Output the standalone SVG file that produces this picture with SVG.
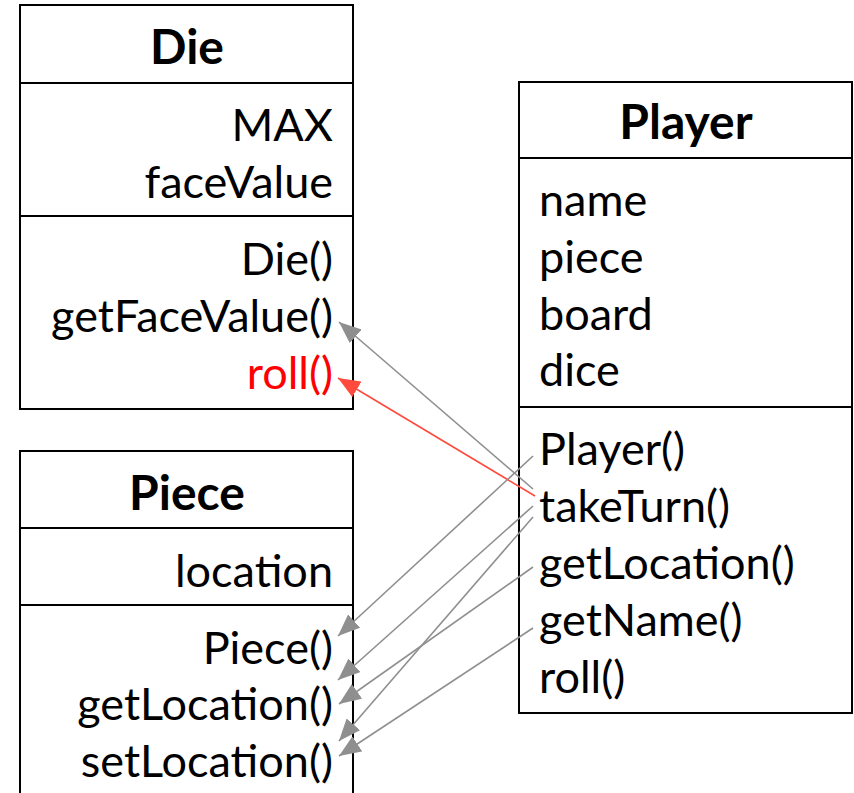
<svg xmlns="http://www.w3.org/2000/svg" width="854" height="793" viewBox="0 0 854 793">
  <defs>
    <style>
      .box { fill: #ffffff; stroke: #000000; stroke-width: 2; }
      .div { stroke: #000000; stroke-width: 2; }
      .t { font-family: Lato, "Liberation Sans", sans-serif; font-size: 45px; fill: #000000; }
      .h { font-family: Lato, "Liberation Sans", sans-serif; font-size: 48px; font-weight: bold; fill: #000000; text-anchor: middle; }
      .r { text-anchor: end; }
      .red { fill: #ff0000; }
      .c { fill: none; stroke: #8f8f8f; stroke-width: 1.6; }
      .cr { fill: none; stroke: #ff4a3d; stroke-width: 1.6; }
    </style>
    <marker id="ag" viewBox="0 0 22 18" refX="22" refY="9" markerWidth="22" markerHeight="18" markerUnits="userSpaceOnUse" orient="auto">
      <path d="M0,0 L22,9 L0,18 z" fill="#8f8f8f"/>
    </marker>
    <marker id="ar" viewBox="0 0 22 18" refX="22" refY="9" markerWidth="22" markerHeight="18" markerUnits="userSpaceOnUse" orient="auto">
      <path d="M0,0 L22,9 L0,18 z" fill="#ff4a3d"/>
    </marker>
  </defs>
  <rect width="854" height="793" fill="#ffffff"/>

  <g id="die">
    <rect class="box" x="20" y="5" width="333" height="404"/>
    <line class="div" x1="20" y1="83" x2="353" y2="83"/>
    <line class="div" x1="20" y1="216" x2="353" y2="216"/>
    <text class="h" x="187" y="64">Die</text>
    <text class="t r" x="333" y="141">MAX</text>
    <text class="t r" x="333" y="198">faceValue</text>
    <text class="t r" x="333" y="275">Die()</text>
    <text class="t r" x="333" y="332">getFaceValue()</text>
    <text class="t r red" x="333" y="389">roll()</text>
  </g>

  <g id="piece">
    <rect class="box" x="20" y="451" width="333" height="400"/>
    <line class="div" x1="20" y1="528" x2="353" y2="528"/>
    <line class="div" x1="20" y1="605" x2="353" y2="605"/>
    <text class="h" x="187" y="510">Piece</text>
    <text class="t r" x="333" y="587">location</text>
    <text class="t r" x="333" y="664">Piece()</text>
    <text class="t r" x="333" y="720">getLocation()</text>
    <text class="t r" x="333" y="777">setLocation()</text>
  </g>

  <g id="player">
    <rect class="box" x="519" y="82" width="333" height="631"/>
    <line class="div" x1="519" y1="158" x2="852" y2="158"/>
    <line class="div" x1="519" y1="407" x2="852" y2="407"/>
    <text class="h" x="686" y="139">Player</text>
    <text class="t" x="539" y="216">name</text>
    <text class="t" x="539" y="273">piece</text>
    <text class="t" x="539" y="330">board</text>
    <text class="t" x="539" y="386">dice</text>
    <text class="t" x="539" y="465">Player()</text>
    <text class="t" x="539" y="522">takeTurn()</text>
    <text class="t" x="539" y="579">getLocation()</text>
    <text class="t" x="539" y="636">getName()</text>
    <text class="t" x="539" y="693">roll()</text>
  </g>

  <g id="connectors">
    <line class="c" x1="533" y1="489" x2="339" y2="322" marker-end="url(#ag)"/>
    <line class="cr" x1="535" y1="496" x2="338" y2="378" marker-end="url(#ar)"/>
    <line class="c" x1="533" y1="456" x2="338" y2="636" marker-end="url(#ag)"/>
    <line class="c" x1="533" y1="506" x2="338" y2="680" marker-end="url(#ag)"/>
    <line class="c" x1="533" y1="517" x2="339" y2="741" marker-end="url(#ag)"/>
    <line class="c" x1="533" y1="567" x2="339" y2="704" marker-end="url(#ag)"/>
    <line class="c" x1="533" y1="628" x2="339" y2="756" marker-end="url(#ag)"/>
  </g>
</svg>
